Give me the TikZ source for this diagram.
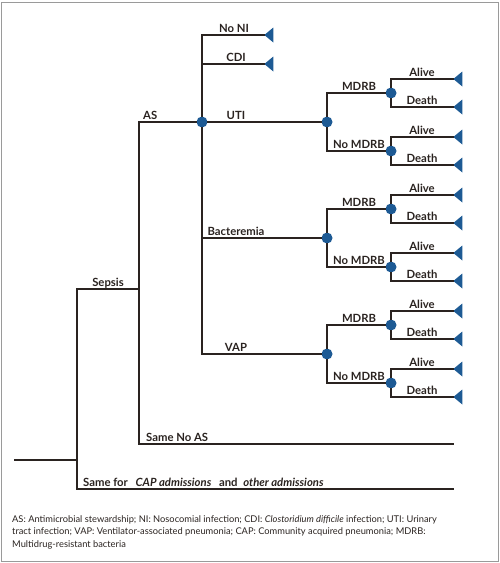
\documentclass[tikz,border=0pt]{standalone}
\usepackage{fontspec}
\setmainfont{Lato}
\usetikzlibrary{shapes.geometric}

\definecolor{nodeblue}{HTML}{1D5A94}
\definecolor{treeline}{HTML}{2A2320}
\definecolor{framegray}{HTML}{9A9A9A}

\begin{document}
\begin{tikzpicture}[x=1pt, y=-1pt,
  branch/.style={draw=treeline, line width=1.6pt, line cap=rect},
  chance/.style={circle, fill=nodeblue, minimum size=11pt, inner sep=0pt},
  term/.style={isosceles triangle, isosceles triangle apex angle=80, isosceles triangle stretches,
    shape border rotate=180, fill=nodeblue, inner sep=0pt, minimum width=15pt, minimum height=9pt, anchor=apex},
  lbl/.style={font=\bfseries\fontsize{11.3}{13}\selectfont, text=treeline, anchor=base, inner sep=0pt},
  note/.style={font=\fontsize{9.3}{12}\selectfont, text=treeline, anchor=base west, inner sep=0pt}]

\useasboundingbox (0,0) rectangle (500,563);

% frame
\draw[framegray, line width=0.9pt] (1,2) rectangle (498,561);

% root and first splits
\coordinate (root) at (15,460);
\coordinate (split) at (77,460);
\coordinate (sepsis) at (139,289);
\coordinate (samefor) at (453,489);
\coordinate (noas) at (453,444);

% nosocomial infection node
\node[chance] (as) at (202,122) {};
\node[term] (noni) at (264,35) {};
\node[term] (cdi) at (264,64) {};

\draw[branch] (root) -- (split);
\draw[branch] (split) |- (sepsis);
\draw[branch] (split) |- (samefor);
\draw[branch] (sepsis) |- (as);
\draw[branch] (sepsis) |- (noas);
\draw[branch] (as) |- (noni);
\draw[branch] (as) |- (cdi);

\node[lbl] (lsepsis) at (108,286) {Sepsis};
\node[lbl, anchor=base west] (las) at (143,119) {AS};
\node[lbl] (lnoni) at (234,32) {No NI};
\node[lbl] (lcdi) at (236,61) {CDI};
\node[lbl, anchor=base west] (lnoas) at (146,441) {Same No AS};
\node[lbl, anchor=base west] (lsamefor) at (83,486)
  {Same for\hspace{5pt} \textit{CAP admissions}\hspace{5pt} and\hspace{3pt} \textit{other admissions}};

% infections, resistance and outcome
\foreach \inf/\y/\itxt in {uti/122/UTI, bac/238/Bacteremia, vap/354/VAP} {
  \node[chance] (\inf) at (327,\y) {};
  \node[lbl] (l\inf) at (236,{\y-3}) {\itxt};
  \foreach \res/\dy/\rtxt in {m/-29/MDRB, n/29/No MDRB} {
    \node[chance] (\inf\res) at (391,{\y+\dy}) {};
    \draw[branch] (\inf) |- (\inf\res);
    \node[lbl] (l\inf\res) at (359,{\y+\dy-3}) {\rtxt};
    \foreach \out/\ddy/\otxt in {a/-14/Alive, d/14/Death} {
      \node[term] (\inf\res\out) at (453,{\y+\dy+\ddy}) {};
      \draw[branch] (\inf\res) |- (\inf\res\out);
      \node[lbl] (l\inf\res\out) at (422,{\y+\dy+\ddy-3}) {\otxt};
    }
  }
}
\draw[branch] (as) -- (uti);
\draw[branch] (as) |- (bac);
\draw[branch] (as) |- (vap);

% abbreviations
\node[note] (note1) at (12,522) {AS: Antimicrobial stewardship; NI: Nosocomial infection; CDI: \textit{Clostoridium difficile} infection; UTI: Urinary};
\node[note] (note2) at (12,534.5) {tract infection; VAP: Ventilator-associated pneumonia; CAP: Community acquired pneumonia; MDRB:};
\node[note] (note3) at (12,547) {Multidrug-resistant bacteria};

\end{tikzpicture}
\end{document}
